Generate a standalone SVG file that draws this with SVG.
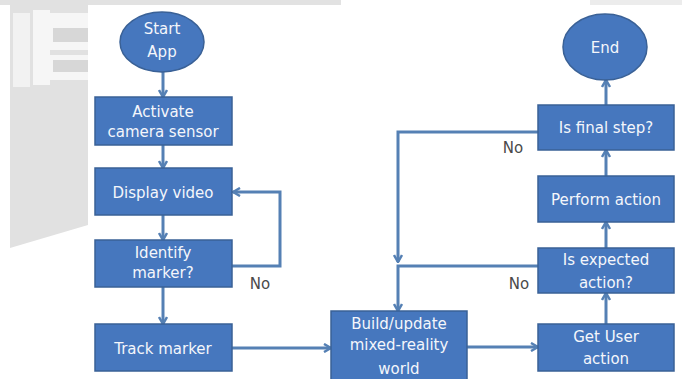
<svg xmlns="http://www.w3.org/2000/svg" width="682" height="379" viewBox="0 0 682 379">
<defs>
<style>
.box{fill:#4677be;stroke:#3a6196;stroke-width:1.5}
.t{font-family:"DejaVu Sans",sans-serif;font-size:15px;fill:#f4f6fb;text-anchor:middle}
.no{font-family:"DejaVu Sans",sans-serif;font-size:15px;fill:#4a4a4a;text-anchor:middle}
.c{fill:none;stroke:#5580b4;stroke-width:3}
</style>
<marker id="a" viewBox="0 0 10 10" refX="9" refY="5" markerWidth="10" markerHeight="10" orient="auto" markerUnits="userSpaceOnUse">
<path d="M2,1 L9,5 L2,9" fill="none" stroke="#5580b4" stroke-width="2.5"/>
</marker>
</defs>
<rect width="682" height="379" fill="#ffffff"/>
<g id="watermark">
<rect x="0" y="0" width="341" height="5" fill="#e2e2e2"/>
<rect x="590" y="0" width="92" height="7" fill="#ececec"/>
<polygon points="10,0 88,0 88,225 10,248" fill="#e1e1e1"/>
<rect x="13" y="13" width="17" height="74" fill="#f2f2f2"/>
<rect x="33" y="10" width="17" height="75" fill="#f6f6f6"/>
<rect x="50" y="13" width="38" height="37" fill="#f6f6f6"/>
<rect x="53" y="28" width="35" height="14" fill="#d7d7d7"/>
<rect x="50" y="55" width="38" height="25" fill="#f6f6f6"/>
<rect x="53" y="60" width="35" height="12" fill="#d7d7d7"/>
</g>
<rect x="88" y="5" width="594" height="374" fill="#ffffff"/>
<g id="connectors">
<path class="c" d="M163,72 V97" marker-end="url(#a)"/>
<path class="c" d="M163,145 V168" marker-end="url(#a)"/>
<path class="c" d="M163,215 V240" marker-end="url(#a)"/>
<path class="c" d="M163,287 V324" marker-end="url(#a)"/>
<path class="c" d="M232,266 H280 V192 H233" marker-end="url(#a)"/>
<path class="c" d="M232,348 H331" marker-end="url(#a)"/>
<path class="c" d="M467,347 H538" marker-end="url(#a)"/>
<path class="c" d="M606,324 V293" marker-end="url(#a)"/>
<path class="c" d="M606,248 V222" marker-end="url(#a)"/>
<path class="c" d="M606,176 V150" marker-end="url(#a)"/>
<path class="c" d="M606,105 V80" marker-end="url(#a)"/>
<path class="c" d="M538,132 H398 V262" marker-end="url(#a)"/>
<path class="c" d="M538,266 H398 V311" marker-end="url(#a)"/>
<text class="no" x="260" y="289">No</text>
<text class="no" x="513" y="153">No</text>
<text class="no" x="519" y="289">No</text>
</g>
<g id="start">
<ellipse class="box" cx="162" cy="42" rx="42" ry="30"/>
<text class="t" x="162" y="34">Start</text>
<text class="t" x="162" y="57">App</text>
</g>
<g id="activate">
<rect class="box" x="95" y="97" width="137" height="48"/>
<text class="t" x="163" y="117">Activate</text>
<text class="t" x="163" y="137">camera sensor</text>
</g>
<g id="display">
<rect class="box" x="95" y="168" width="137" height="47"/>
<text class="t" x="163" y="198">Display video</text>
</g>
<g id="identify">
<rect class="box" x="95" y="240" width="137" height="47"/>
<text class="t" x="163" y="258">Identify</text>
<text class="t" x="163" y="278">marker?</text>
</g>
<g id="track">
<rect class="box" x="95" y="324" width="137" height="47"/>
<text class="t" x="163" y="354">Track marker</text>
</g>
<g id="build">
<rect class="box" x="331" y="311" width="136" height="72"/>
<text class="t" x="399" y="329">Build/update</text>
<text class="t" x="399" y="350">mixed-reality</text>
<text class="t" x="399" y="374">world</text>
</g>
<g id="getuser">
<rect class="box" x="538" y="324" width="136" height="47"/>
<text class="t" x="606" y="342">Get User</text>
<text class="t" x="606" y="364">action</text>
</g>
<g id="expected">
<rect class="box" x="538" y="248" width="136" height="45"/>
<text class="t" x="606" y="265">Is expected</text>
<text class="t" x="606" y="288">action?</text>
</g>
<g id="perform">
<rect class="box" x="538" y="176" width="136" height="46"/>
<text class="t" x="606" y="205">Perform action</text>
</g>
<g id="final">
<rect class="box" x="538" y="105" width="136" height="45"/>
<text class="t" x="606" y="133">Is final step?</text>
</g>
<g id="end">
<ellipse class="box" cx="605" cy="47" rx="42" ry="33"/>
<text class="t" x="605" y="53">End</text>
</g>
</svg>
